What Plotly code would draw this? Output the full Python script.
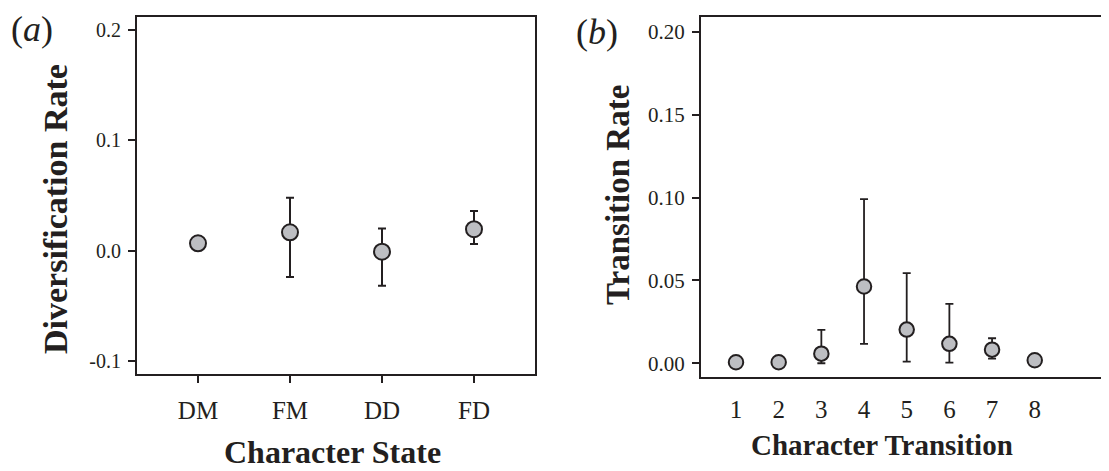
import plotly.graph_objects as go

# ---- data ----
states = ["DM", "FM", "DD", "FD"]
div_rate = [0.0066, 0.0166, -0.001, 0.0194]
div_err_up = [0.0, 0.0314, 0.021, 0.0166]
div_err_down = [0.0, 0.0406, 0.031, 0.0134]
div_tickvals = [-0.1, 0.0, 0.1, 0.2]
div_ticktext = ["-0.1", "0.0", "0.1", "0.2"]

transitions = [1, 2, 3, 4, 5, 6, 7, 8]
trans_rate = [0.0006, 0.0006, 0.0058, 0.0463, 0.0203, 0.0117, 0.0082, 0.0018]
trans_err_up = [0.0, 0.0, 0.0143, 0.0528, 0.0341, 0.0241, 0.0069, 0.0]
trans_err_down = [0.0, 0.0, 0.0058, 0.0346, 0.0193, 0.0113, 0.0054, 0.0]
trans_tickvals = [0.0, 0.05, 0.10, 0.15, 0.20]
trans_ticktext = ["0.00", "0.05", "0.10", "0.15", "0.20"]

OFF = 8  # page body margin
W, H = 1109 - OFF, 471 - OFF
INK = "#231f20"
FILL = "#bdbec2"
SERIF = "Liberation Serif, Times New Roman, serif"

def px(x):
    return (x - OFF) / W

def py(y):
    return 1 - (y - OFF) / H

fig = go.Figure()

fig.add_trace(go.Scatter(
    x=states, y=div_rate, mode="markers", xaxis="x", yaxis="y",
    marker=dict(size=16, color=FILL, line=dict(color=INK, width=2)),
    error_y=dict(type="data", symmetric=False, array=div_err_up,
                 arrayminus=div_err_down, color=INK, thickness=2, width=4),
    showlegend=False, cliponaxis=False,
))

fig.add_trace(go.Scatter(
    x=transitions, y=trans_rate, mode="markers", xaxis="x2", yaxis="y2",
    marker=dict(size=14.5, color=FILL, line=dict(color=INK, width=2)),
    error_y=dict(type="data", symmetric=False, array=trans_err_up,
                 arrayminus=trans_err_down, color=INK, thickness=1.8, width=4),
    showlegend=False, cliponaxis=False,
))

axis_common = dict(showgrid=False, zeroline=False, showline=True,
                   linecolor=INK, linewidth=2, tickcolor=INK, tickwidth=2,
                   ticklen=7)

fig.update_layout(
    width=W, height=H,
    margin=dict(l=0, r=0, t=0, b=0),
    paper_bgcolor="white", plot_bgcolor="white",
    font=dict(family=SERIF, color=INK),
    xaxis=dict(domain=[px(137), px(535)], anchor="y", range=[-0.663, 3.663],
               type="category", ticks="outside", mirror=True,
               ticklabelstandoff=6,
               tickfont=dict(size=25, family=SERIF, color=INK), **axis_common),
    yaxis=dict(domain=[py(374), py(17)], anchor="x", range=[-0.112, 0.212],
               tickvals=div_tickvals, ticktext=div_ticktext, ticks="outside",
               mirror=True, ticklabelstandoff=3,
               tickfont=dict(size=20, family=SERIF, color=INK),
               **axis_common),
    xaxis2=dict(domain=[px(701), 1.0], anchor="y2", range=[0.18, 9.74],
                tickvals=transitions, ticktext=[str(t) for t in transitions],
                ticks="", mirror=True, ticklabelstandoff=9,
                tickfont=dict(size=25, family=SERIF, color=INK), **axis_common),
    yaxis2=dict(domain=[py(377), py(17)], anchor="x2", range=[-0.0083, 0.209],
                tickvals=trans_tickvals, ticktext=trans_ticktext,
                ticks="outside", mirror=False, ticklabelstandoff=3,
                tickfont=dict(size=21, family=SERIF, color=INK), **axis_common),
)

def note(text, x, y, size, angle=0):
    return dict(text=text, x=px(x), y=py(y), xref="paper", yref="paper",
                xanchor="center", yanchor="middle", showarrow=False,
                textangle=angle, font=dict(size=size, family=SERIF, color=INK))

fig.update_layout(annotations=[
    note("<b>Character State</b>", 333, 452, 32),
    note("<b>Diversification Rate</b>", 55, 209, 34, -90),
    note("<b>Character Transition</b>", 882, 445, 29),
    note("<b>Transition Rate</b>", 618, 195, 33, -90),
    note("(<i>a</i>)", 32, 29, 36),
    note("(<i>b</i>)", 597, 32, 36),
])

fig.write_html("out.html")
